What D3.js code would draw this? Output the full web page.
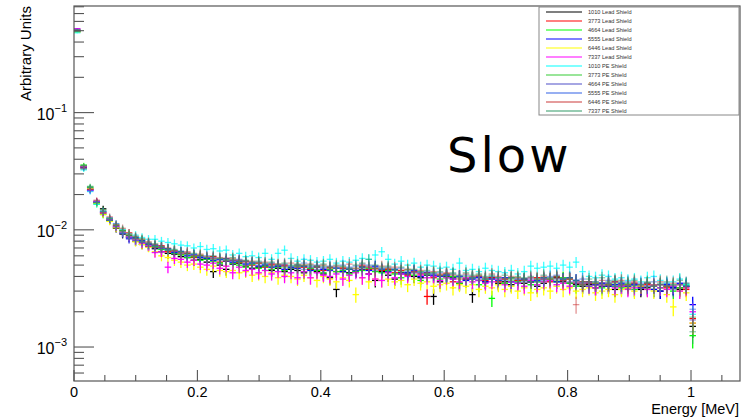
<!DOCTYPE html>
<html><head><meta charset="utf-8">
<script src="https://cdn.jsdelivr.net/npm/d3@7"></script>
<style>body{margin:0;background:#fff;}svg{display:block;font-family:"Liberation Sans",Arial,sans-serif;}</style>
</head><body>
<svg id="c" width="741" height="419"></svg>
<script>
// ---- data (values in units of 1e-3, arbitrary units) ----
const binWidth = 0.0105;          // MeV per bin
const nBins = 96;
const entriesPerSeries = 16000;   // used for Poisson error bars
const xTickLabels = ["0","0.2","0.4","0.6","0.8","1"];
const yTickLabels = [{base:"10",exp:"\u22121",v:1e-1},{base:"10",exp:"\u22122",v:1e-2},{base:"10",exp:"\u22123",v:1e-3}];
const seriesNames = ["1010 Lead Shield","3773 Lead Shield","4664 Lead Shield","5555 Lead Shield","6446 Lead Shield","7337 Lead Shield",
  "1010 PE Shield","3773 PE Shield","4664 PE Shield","5555 PE Shield","6446 PE Shield","7337 PE Shield"];
const seriesColors = ["#000000","#ff0000","#00ff00","#0000ff","#ffff00","#ff00ff",
  "#00ffff","#33cc33","#4d4dc8","#2f5fe6","#cc3a3a","#2f9966"];
const seriesOpacity = [1,1,1,1,1,1,0.75,0.55,0.55,0.55,0.55,0.55];

const lead1010 = [505,34.5,22.3,17.2,15.1,12.0,10.3,9.2,8.9,8.0,7.5,7.2,
 6.9,6.5,6.3,6.2,5.9,5.8,5.5,5.6,5.3,4.4,5.0,4.6,
 5.1,5.2,4.9,4.7,4.8,4.9,4.5,4.7,4.4,4.6,4.5,4.3,
 4.6,4.4,4.2,3.9,3.1,4.4,4.3,4.4,4.6,4.2,3.7,4.4,
 4.1,3.8,4.3,4.2,4.0,3.9,4.1,2.7,3.6,4.0,3.9,3.5,
 3.8,2.8,3.7,3.6,3.9,3.5,3.6,3.4,3.7,3.5,3.6,3.3,
 3.5,3.7,3.9,3.6,3.5,3.4,3.3,3.4,3.2,3.3,3.4,3.1,
 3.3,3.2,3.4,3.1,3.2,3.3,3.0,3.3,3.2,3.1,3.3,1.5];
const lead3773 = [490,33.5,22.0,17.5,13.8,12.4,10.9,9.9,9.4,8.4,7.8,7.6,
 7.1,7.3,6.5,6.6,6.2,6.3,5.8,6.0,5.6,5.9,5.3,5.7,
 5.5,5.3,5.4,5.0,5.2,4.8,5.1,4.9,5.0,4.7,5.0,4.8,
 4.6,4.9,4.5,4.8,4.4,4.7,4.6,4.5,4.9,4.6,4.7,4.5,
 4.6,4.3,4.5,4.1,4.4,4.2,2.7,3.9,4.1,4.2,3.6,4.0,
 3.8,3.9,4.0,3.7,3.9,3.6,3.8,3.9,3.7,3.8,3.6,3.9,
 3.8,3.6,4.0,3.7,3.8,3.5,3.6,3.5,3.4,3.5,3.3,3.6,
 3.4,3.3,3.5,3.2,3.4,3.3,3.4,3.2,3.3,3.2,3.1,1.75];
const lead4664 = [495,35.5,23.0,16.6,13.5,12.0,10.6,9.8,8.6,8.3,7.9,7.4,
 7.2,6.8,6.7,6.3,6.1,5.8,5.9,5.5,5.6,5.4,5.2,5.4,
 5.2,5.0,4.8,5.1,4.7,4.9,4.6,4.8,4.5,4.7,4.9,4.4,
 4.7,4.5,4.3,4.6,4.4,4.5,4.2,4.4,4.5,4.7,4.4,4.3,
 4.5,4.2,3.9,4.3,4.1,3.7,4.2,4.0,3.8,3.9,4.0,3.5,
 3.7,3.9,3.4,3.8,2.6,3.7,3.5,3.9,3.6,3.7,3.4,3.6,
 3.6,3.8,3.6,3.9,3.5,3.3,3.4,3.3,3.5,3.2,3.4,3.3,
 3.2,3.4,3.1,3.3,3.5,3.1,3.2,3.3,3.0,3.2,3.4,1.25];
const lead5555 = [500,34.0,21.8,17.0,14.2,12.1,10.5,9.4,8.5,8.6,8.1,7.5,
 7.4,7.0,6.9,6.4,6.5,6.0,6.1,5.8,5.7,5.5,5.6,5.4,
 5.3,5.4,5.1,5.2,4.9,5.0,4.8,4.9,4.6,4.8,4.7,4.9,
 4.5,4.8,4.6,4.5,4.7,4.4,4.6,4.5,4.8,4.5,4.9,4.6,
 4.4,4.6,4.2,4.3,4.5,4.0,4.3,4.1,4.0,4.1,3.8,4.0,
 3.7,3.8,3.9,3.6,3.8,3.7,3.9,3.6,3.5,3.8,3.6,3.7,
 3.9,3.7,3.6,3.8,3.9,3.7,3.5,3.6,3.4,3.5,3.3,3.4,
 3.5,3.3,3.4,3.2,3.5,3.1,3.0,3.4,3.2,3.5,3.3,2.3];
const lead6446 = [485,33.0,22.5,16.8,13.6,11.8,10.4,9.5,8.8,7.9,7.5,7.1,
 6.5,6.0,5.8,5.5,5.3,5.0,5.1,4.8,4.6,4.9,4.5,4.4,
 4.5,4.3,4.4,4.1,4.2,4.0,4.3,3.9,4.1,4.0,3.8,4.1,
 3.9,3.7,4.0,3.8,3.6,3.9,3.7,2.8,3.9,3.6,3.8,3.7,
 3.8,3.6,3.7,3.4,3.8,3.5,3.6,3.3,3.4,3.5,3.2,3.4,
 3.3,3.4,3.1,3.3,3.2,3.4,3.1,3.3,3.0,3.2,2.9,3.1,
 3.2,3.0,3.3,3.1,3.2,3.0,3.1,3.2,2.9,3.0,3.1,2.8,
 3.1,3.2,3.0,3.3,3.1,3.0,3.2,2.8,2.2,3.0,2.9,1.6];
const lead7337 = [520,34.8,21.5,17.4,14.0,12.3,10.7,9.6,8.7,8.2,7.7,7.3,
 6.4,6.5,4.8,5.7,5.6,5.3,5.5,5.1,5.0,5.2,4.7,4.9,
 4.3,4.8,4.5,4.6,4.3,4.5,4.2,4.4,4.0,4.3,3.9,4.4,
 3.9,4.3,4.1,4.0,4.2,3.8,4.1,4.3,3.9,4.2,3.8,3.7,
 4.3,3.9,4.2,4.0,4.3,4.1,3.9,4.0,3.7,3.9,3.8,3.6,
 3.9,3.6,3.7,3.5,3.6,3.8,3.4,3.6,3.5,3.3,3.7,3.4,
 3.6,3.7,3.4,3.5,3.3,3.6,3.5,3.3,3.2,3.4,3.5,3.2,
 3.3,3.1,3.2,3.4,3.1,3.3,3.2,3.1,3.3,3.0,3.2,2.0];
const pe1010 = [480,32.5,21.2,16.5,14.3,12.6,11.2,10.1,9.3,9.0,8.6,8.3,
 8.3,8.0,7.8,7.6,7.4,7.3,7.0,7.2,6.8,6.9,6.6,6.7,
 6.1,6.3,5.9,6.0,5.8,6.3,5.6,6.3,6.7,5.7,5.4,5.6,
 5.5,5.3,5.4,5.6,5.2,5.4,5.3,5.5,5.7,5.6,6.1,6.5,
 5.6,5.1,5.4,5.0,5.2,4.8,5.0,4.9,4.7,4.8,4.6,5.2,
 4.5,4.6,4.4,4.7,4.5,4.4,4.3,4.5,4.2,4.4,4.9,4.7,
 4.8,4.9,4.7,5.0,4.8,5.3,4.4,4.0,3.9,4.1,4.0,3.8,
 3.9,3.7,3.8,3.6,3.9,4.0,3.7,3.5,3.6,3.8,3.4,1.9];
const pe3773 = [510,35.8,23.3,16.9,14.8,12.5,11.0,9.7,9.1,8.5,8.2,7.8,
 7.3,7.1,6.8,6.7,6.4,6.2,6.0,6.1,5.8,5.6,5.7,5.5,
 5.6,5.3,5.4,5.1,5.2,5.0,4.9,5.1,4.8,4.9,4.8,5.0,
 4.7,4.8,4.9,4.6,4.7,4.8,4.6,4.7,4.8,4.9,4.7,4.6,
 4.7,4.5,4.4,4.6,4.3,4.4,4.2,4.3,4.1,4.0,4.2,3.9,
 4.0,3.9,4.1,3.8,4.0,3.9,3.8,3.7,3.9,3.8,3.6,3.8,
 3.9,3.8,3.7,3.9,3.8,3.6,3.5,3.6,3.5,3.4,3.6,3.5,
 3.4,3.5,3.3,3.4,3.5,3.3,3.4,3.3,3.4,3.2,3.3,1.8];
const pe4664 = [515,33.8,22.8,17.6,13.9,12.2,10.6,9.5,8.3,8.5,8.0,7.6,
 7.3,7.0,6.7,6.6,6.3,6.4,6.1,5.9,5.8,5.7,5.5,5.6,
 5.4,5.5,5.2,5.3,5.0,5.1,4.9,5.0,4.9,4.7,4.8,4.6,
 4.8,4.6,4.7,4.5,4.8,4.6,4.7,4.5,4.6,4.8,4.5,4.7,
 4.4,4.5,4.3,4.2,4.4,4.3,4.1,4.2,4.0,4.1,3.9,4.0,
 3.8,4.0,3.7,3.9,3.8,3.7,3.9,3.6,3.8,3.7,3.8,3.6,
 3.7,3.9,3.8,3.7,3.6,3.5,3.4,3.5,3.4,3.3,3.5,3.3,
 3.4,3.3,3.5,3.2,3.3,3.4,3.2,3.3,3.1,3.4,3.3,1.7];
const pe5555 = [498,33.2,21.6,17.3,14.5,12.7,11.3,9.3,8.7,8.1,7.8,7.7,
 7.0,7.2,6.8,6.5,6.6,6.1,6.2,5.9,6.0,5.8,5.6,5.7,
 5.5,5.6,5.4,5.2,5.3,5.1,5.2,5.0,5.1,4.9,5.0,5.2,
 4.9,5.0,4.8,4.9,4.7,5.0,4.8,4.9,5.1,5.0,4.8,4.6,
 4.8,4.6,4.7,4.4,4.5,4.3,4.4,4.2,4.3,4.1,4.2,4.0,
 4.1,3.9,4.0,3.8,4.0,3.9,3.7,3.9,3.8,3.6,3.9,3.7,
 3.8,4.0,4.1,3.8,3.9,3.7,3.8,3.3,3.6,3.5,3.7,3.6,
 3.5,3.6,3.4,3.5,3.3,3.6,3.4,3.5,3.3,3.4,3.5,2.1];
const pe6446 = [502,34.2,22.2,17.9,14.1,12.9,11.1,10.3,9.2,8.8,8.3,7.9,
 7.5,7.1,7.0,6.6,6.4,6.5,6.0,6.2,5.9,5.7,5.8,5.4,
 5.7,5.5,5.3,5.4,5.2,5.3,5.0,5.1,4.9,5.2,4.8,5.0,
 5.1,4.8,5.0,4.7,4.9,4.8,5.1,4.7,5.0,4.8,4.6,4.9,
 4.7,4.8,4.5,4.6,4.4,4.5,4.3,4.4,4.2,4.3,4.1,3.8,
 4.2,4.0,4.1,3.9,4.2,4.0,3.8,4.0,3.9,3.7,3.9,3.8,
 4.0,3.8,3.9,3.7,3.8,2.3,3.4,3.6,3.5,3.7,3.4,3.6,
 3.7,3.4,3.6,3.3,3.5,3.4,3.6,3.3,3.5,3.4,3.2,1.6];
const pe7337 = [492,35.0,23.5,17.1,14.4,12.4,10.9,9.9,9.0,8.7,8.4,7.5,
 7.6,7.2,6.9,6.8,6.5,6.2,6.3,6.0,5.8,6.0,5.7,5.6,
 5.8,5.4,5.5,5.3,5.4,5.2,5.3,5.0,5.2,5.0,5.1,4.9,
 5.0,4.9,5.1,4.8,5.0,4.9,4.7,5.0,5.2,5.6,5.0,4.8,
 4.9,4.6,4.8,4.5,4.6,4.4,4.5,4.3,4.4,4.2,4.3,4.1,
 4.3,4.1,4.2,4.0,4.1,3.9,4.1,3.8,4.0,3.9,4.0,3.8,
 4.1,3.9,4.0,3.8,3.9,3.7,3.6,3.8,3.6,3.9,3.5,3.7,
 3.6,3.5,3.7,3.4,3.6,3.3,3.5,3.6,3.4,3.7,3.5,1.35];
const allSeries = [lead1010,lead3773,lead4664,lead5555,lead6446,lead7337,pe1010,pe3773,pe4664,pe5555,pe6446,pe7337];

// ---- layout ----
const L = 74, R = 740, T = 6, B = 381;
const svg = d3.select("#c");
const x = d3.scaleLinear().domain([0, 1.0794]).range([L, R]);
const y = d3.scaleLog().domain([5.13e-4, 0.812]).range([B, T]);

// data crosses
const plot = svg.append("g");
allSeries.forEach((vals, s) => {
  const g = plot.append("g").attr("stroke", seriesColors[s]).attr("stroke-opacity", seriesOpacity[s]).attr("stroke-width", 1.3);
  vals.forEach((v1e3, i) => {
    const v = v1e3 * 1e-3;
    const e = Math.sqrt(v / entriesPerSeries);
    const lo = i * binWidth, hi = (i + 1) * binWidth, c = (i + 0.5) * binWidth;
    g.append("line").attr("x1", x(lo)).attr("x2", x(hi)).attr("y1", y(v)).attr("y2", y(v));
    g.append("line").attr("x1", x(c)).attr("x2", x(c)).attr("y1", y(v + e)).attr("y2", y(Math.max(v - e, 1e-6)));
  });
});

// frame
const axCol = "#555";
svg.append("rect").attr("x", L).attr("y", T).attr("width", R - L).attr("height", B - T)
  .attr("fill", "none").attr("stroke", axCol).attr("stroke-width", 1.2);

// x ticks
const xMinor = d3.range(0, 1.0794, 0.05);
svg.append("g").selectAll("line").data(xMinor).join("line")
  .attr("x1", d => x(d)).attr("x2", d => x(d)).attr("y1", B)
  .attr("y2", (d, i) => (i % 4 === 0) ? B - 11 : B - 6)
  .attr("stroke", axCol).attr("stroke-width", 1.1);
svg.append("g").selectAll("text").data(xTickLabels).join("text")
  .attr("x", d => x(+d)).attr("y", 397).attr("text-anchor", "middle")
  .attr("font-size", 14.5).text(d => d);

// y ticks
const yTicks = [];
[1e-4, 1e-3, 1e-2, 1e-1].forEach(dec => { for (let k = 1; k <= 9; k++) { const v = dec * k; if (v >= 5.13e-4 && v <= 0.812) yTicks.push({v, major: k === 1}); } });
svg.append("g").selectAll("line").data(yTicks).join("line")
  .attr("x1", L).attr("x2", d => d.major ? L + 20 : L + 10)
  .attr("y1", d => y(d.v)).attr("y2", d => y(d.v))
  .attr("stroke", axCol).attr("stroke-width", 1.1);
const yl = svg.append("g").selectAll("text").data(yTickLabels).join("text")
  .attr("x", 67).attr("y", d => y(d.v) + 7).attr("text-anchor", "end").attr("font-size", 16);
yl.append("tspan").text(d => d.base);
yl.append("tspan").attr("font-size", 11).attr("dy", -8).text(d => d.exp);

// axis titles
svg.append("text").attr("x", 739).attr("y", 414).attr("text-anchor", "end").attr("font-size", 14.5).text("Energy [MeV]");
svg.append("text").attr("transform", "translate(31,6) rotate(-90)").attr("text-anchor", "end").attr("font-size", 15).text("Arbitrary Units");

// annotation
svg.append("text").attr("x", 447).attr("y", 172).attr("font-family", "'DejaVu Sans',sans-serif").attr("font-size", 48)
  .attr("letter-spacing", 3).text("Slow");

// legend
const lg = svg.append("g");
lg.append("rect").attr("x", 539).attr("y", 7).attr("width", 200).attr("height", 108)
  .attr("fill", "#fff").attr("stroke", "#888").attr("stroke-width", 1);
seriesNames.forEach((n, k) => {
  const yy = 12 + 9 * k;
  lg.append("line").attr("x1", 546).attr("x2", 582).attr("y1", yy).attr("y2", yy)
    .attr("stroke", seriesColors[k]).attr("stroke-width", 2).attr("stroke-opacity", 0.5);
  lg.append("text").attr("x", 588).attr("y", yy + 2).attr("font-size", 5.6).attr("fill", "#333").text(n);
});
</script>
</body></html>
